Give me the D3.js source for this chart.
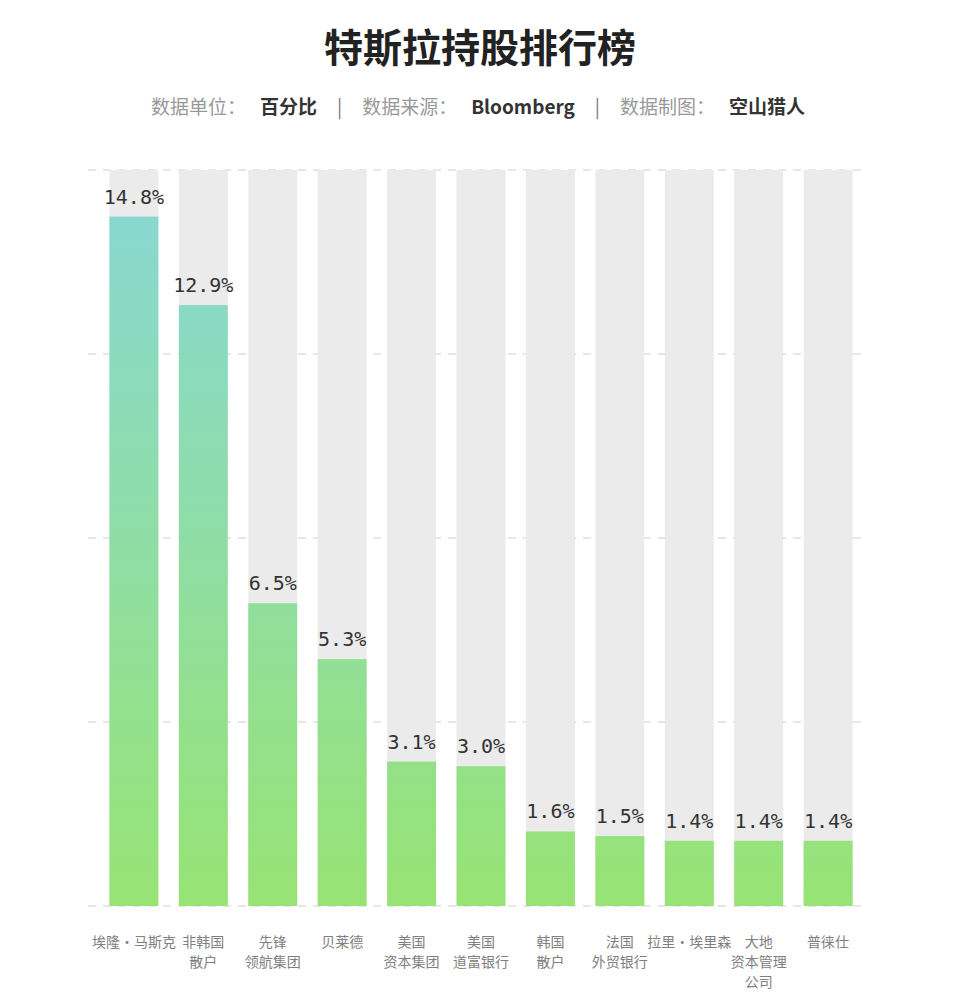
<!DOCTYPE html>
<html><head><meta charset="utf-8">
<script src="https://cdn.jsdelivr.net/npm/d3@7"></script>
<style>body{margin:0;background:#fff;} svg{display:block;}</style>
</head><body>
<svg id="c" width="960" height="1000"></svg>
<script>
const categories = [["埃隆·马斯克"],["非韩国","散户"],["先锋","领航集团"],["贝莱德"],["美国","资本集团"],["美国","道富银行"],["韩国","散户"],["法国","外贸银行"],["拉里·埃里森"],["大地","资本管理","公司"],["普徕仕"]];
const values = [14.8,12.9,6.5,5.3,3.1,3.0,1.6,1.5,1.4,1.4,1.4];
const valueLabels = ["14.8%","12.9%","6.5%","5.3%","3.1%","3.0%","1.6%","1.5%","1.4%","1.4%","1.4%"];
const yMax = 15.8;
const gridCount = 4;

const svg = d3.select("#c");
const font = "'Noto Sans CJK SC','Noto Sans',sans-serif";

svg.append("text").attr("x",480).attr("y",62).attr("text-anchor","middle")
  .attr("font-family",font).attr("font-weight","bold").attr("font-size",39).attr("fill","#222")
  .text("特斯拉持股排行榜");

const sub = svg.append("text").attr("x",478).attr("y",114).attr("text-anchor","middle")
  .attr("font-family",font).attr("font-size",19);
const parts = [["数据单位：",0],["百分比",1],["|",2],["数据来源：",0],["Bloomberg",1],["|",2],["数据制图：",0],["空山猎人",1]];
parts.forEach((p,i)=>sub.append("tspan").text(p[0])
  .attr("fill",p[1]===1?"#333":(p[1]===2?"#777":"#999"))
  .attr("font-weight",p[1]===1?"bold":"normal")
  .attr("dx", i===0?0:(p[1]===1?14:20)));

const x = d3.scaleBand().domain(d3.range(values.length)).range([99,863]).paddingInner(0.295).paddingOuter(0.15);
const y = d3.scaleLinear().domain([0,yMax]).range([906,170]);
const yTicks = d3.range(gridCount+1).map(i=>i*yMax/gridCount);

const defs = svg.append("defs");
const grad = defs.append("linearGradient").attr("id","g").attr("gradientUnits","userSpaceOnUse")
  .attr("x1",0).attr("x2",0).attr("y1",y(14.8)).attr("y2",y(0));
grad.append("stop").attr("offset","0%").attr("stop-color","#88d8d0");
grad.append("stop").attr("offset","100%").attr("stop-color","#97e374");

svg.append("g").selectAll("line").data(yTicks).join("line")
  .attr("x1",88).attr("x2",866).attr("y1",d=>y(d)).attr("y2",d=>y(d))
  .attr("stroke","#d0d0d0").attr("stroke-width",1.2).attr("stroke-dasharray","8,7");

svg.append("g").selectAll("rect").data(values).join("rect")
  .attr("x",(d,i)=>x(i)).attr("width",x.bandwidth())
  .attr("y",y(yMax)).attr("height",y(0)-y(yMax)).attr("fill","#ebebeb");

svg.append("g").selectAll("rect").data(values).join("rect")
  .attr("x",(d,i)=>x(i)).attr("width",x.bandwidth())
  .attr("y",d=>y(d)).attr("height",d=>y(0)-y(d)).attr("fill","url(#g)");

svg.append("g").selectAll("text").data(values).join("text")
  .attr("x",(d,i)=>x(i)+x.bandwidth()/2).attr("y",d=>y(d)-13)
  .attr("text-anchor","middle").attr("font-family","'DejaVu Sans Mono',monospace")
  .attr("font-size",20).attr("fill","#333").text((d,i)=>valueLabels[i]);

const lab = svg.append("g").selectAll("text").data(categories).join("text")
  .attr("text-anchor","middle").attr("font-family",font).attr("font-size",14).attr("fill","#808080")
  .attr("transform",(d,i)=>`translate(${x(i)+x.bandwidth()/2},947)`);
lab.selectAll("tspan").data(d=>d).join("tspan").attr("x",0).attr("dy",(d,j)=>j?20:0).text(d=>d);
</script>
</body></html>
